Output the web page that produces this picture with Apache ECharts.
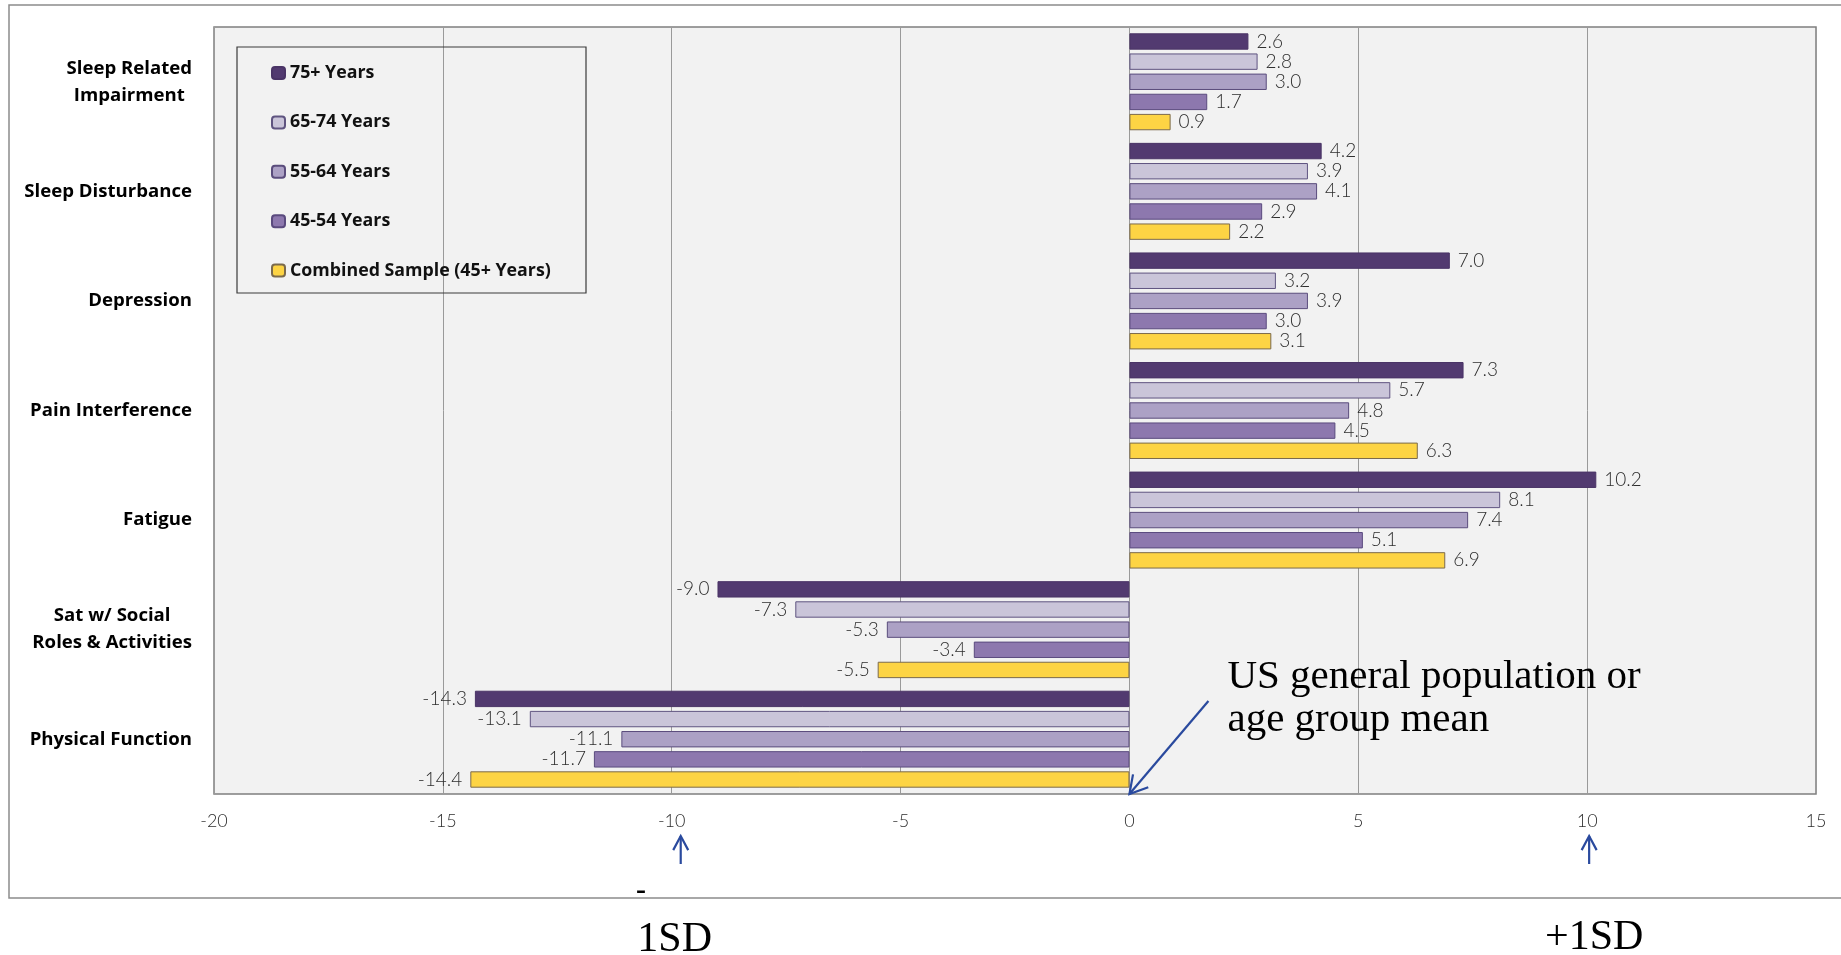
<!DOCTYPE html>
<html><head><meta charset="utf-8">
<script src="https://cdn.jsdelivr.net/npm/echarts@6/dist/echarts.min.js"></script>
<style>html,body{margin:0;padding:0;background:#fff;}#c{width:1841px;height:955px;}</style>
</head><body><div id="c"></div>
<script>
const categories = ['Sleep Related\nImpairment','Sleep Disturbance','Depression','Pain Interference','Fatigue','Sat w/ Social\nRoles & Activities','Physical Function'];
const seriesNames = ['75+ Years','65-74 Years','55-64 Years','45-54 Years','Combined Sample (45+ Years)'];
const age75plus = [2.6,4.2,7.0,7.3,10.2,-9.0,-14.3];
const age65to74 = [2.8,3.9,3.2,5.7,8.1,-7.3,-13.1];
const age55to64 = [3.0,4.1,3.9,4.8,7.4,-5.3,-11.1];
const age45to54 = [1.7,2.9,3.0,4.5,5.1,-3.4,-11.7];
const combined = [0.9,2.2,3.1,6.3,6.9,-5.5,-14.4];
const xMin = -20, xMax = 15, xInterval = 5;
const annotationText = ['US general population or','age group mean'];
const sdLabels = ['-','1SD','+1SD'];

const seriesValues = [age75plus, age65to74, age55to64, age45to54, combined];
const fills = ['#523a70','#cac5d9','#aca1c5','#8d78ae','#fdd444'];
const borders = ['#4a3466','#5f5480','#5a4c7c','#5a4a7e','#7b6a4c'];

const chart = echarts.init(document.getElementById('c'), null, {renderer:'canvas'});

const option = {
  animation:false,
  backgroundColor:'#ffffff',
  grid:{left:214, top:27, right:25, bottom:161, show:true, backgroundColor:'#f2f2f2', borderColor:'#7f7f7f', borderWidth:1.5},
  legend:{
    orient:'vertical', left:271, top:64, padding:0,
    itemWidth:13, itemHeight:12, itemGap:31.4,
    textStyle:{fontFamily:'Open Sans', fontWeight:'bold', fontSize:17.8, color:'#111'},
    data: seriesNames
  },
  xAxis:{
    type:'value', min:xMin, max:xMax, interval:xInterval,
    axisLine:{show:false}, axisTick:{show:false},
    axisLabel:{fontFamily:'Lato', fontWeight:300, fontSize:18, color:'#2e2e2e', margin:18, formatter: v => String(v)},
    splitLine:{show:true, lineStyle:{color:'#9a9a9a', width:1}}
  },
  yAxis:{
    type:'category', data:categories, inverse:true,
    axisLine:{show:false}, axisTick:{show:false},
    axisLabel:{
      margin:22,
      formatter: v => v.split('\n').map(s => '{c|' + s + '}').join('\n'),
      rich:{c:{align:'center', fontFamily:'Open Sans', fontWeight:'bold', fontSize:18.6, lineHeight:27, color:'#000'}}
    }
  },
  series: seriesNames.map((name, i) => ({
    name, type:'bar',
    barGap:'23%', barCategoryGap:'11.5%',
    itemStyle:{color:fills[i], borderColor:borders[i], borderWidth:1},
    label:{show:true, distance:8, fontFamily:'Lato', fontWeight:300, fontSize:19, color:'#2e2e2e', formatter: p => p.value.toFixed(1)},
    data: seriesValues[i].map(v => ({value:v, label:{position: v < 0 ? 'left' : 'right'}}))
  }))
};
chart.setOption(option);

const x0 = chart.convertToPixel({xAxisIndex:0}, 0);
const xm10 = chart.convertToPixel({xAxisIndex:0}, -10);
const xp10 = chart.convertToPixel({xAxisIndex:0}, 10);
const gridBottom = 955 - 161;
const blue = '#2a4a9e';

function arrow(x1, y1, x2, y2, L, ang) {
  const dx = x2 - x1, dy = y2 - y1, len = Math.hypot(dx, dy);
  const ux = dx/len, uy = dy/len;
  const a = ang*Math.PI/180;
  const p1 = [x2 - L*(ux*Math.cos(a) - uy*Math.sin(a)), y2 - L*(uy*Math.cos(a) + ux*Math.sin(a))];
  const p2 = [x2 - L*(ux*Math.cos(-a) - uy*Math.sin(-a)), y2 - L*(uy*Math.cos(-a) + ux*Math.sin(-a))];
  return [
    {type:'line', shape:{x1, y1, x2, y2}, style:{stroke:blue, lineWidth:2.2}, z:100, silent:true},
    {type:'polyline', shape:{points:[p1, [x2, y2], p2]}, style:{stroke:blue, lineWidth:2.2, fill:null}, z:100, silent:true}
  ];
}

const graphics = [
  {type:'rect', shape:{x:9, y:5, width:1845, height:893}, style:{fill:null, stroke:'#8c8c8c', lineWidth:1.5}, z:-5, silent:true},
  {type:'rect', shape:{x:237, y:47, width:349, height:246}, style:{fill:null, stroke:'#3a3a3a', lineWidth:1.2}, z:50, silent:true},
  ...arrow(x0 + 79, 701, x0, gridBottom, 20, 30),
  ...arrow(xm10 + 9, 864, xm10 + 9, 836, 16, 28),
  ...arrow(xp10 + 2, 864, xp10 + 2, 836, 16, 28),
  {type:'text', x:x0 + 98, y:699, style:{text:annotationText.join('\n'), font:'41px "Liberation Serif"', fill:'#000', lineHeight:43, verticalAlign:'middle', align:'left'}, z:100, silent:true},
  {type:'text', x:641, y:891, style:{text:sdLabels[0], font:'bold 30px "Liberation Serif"', fill:'#000', align:'center', verticalAlign:'middle'}, z:100, silent:true},
  {type:'text', x:xm10 + 3, y:940, style:{text:sdLabels[1], font:'42px "Liberation Serif"', fill:'#000', align:'center', verticalAlign:'middle'}, z:100, silent:true},
  {type:'text', x:xp10 + 7, y:938, style:{text:sdLabels[2], font:'42px "Liberation Serif"', fill:'#000', align:'center', verticalAlign:'middle'}, z:100, silent:true}
];
chart.setOption({graphic: graphics});
</script>
</body></html>
